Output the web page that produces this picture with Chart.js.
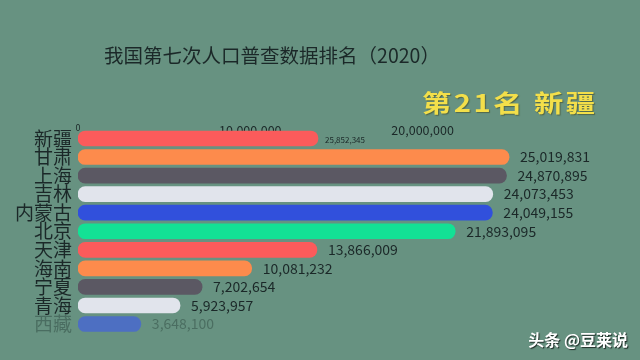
<!DOCTYPE html>
<html><head><meta charset="utf-8">
<script src="https://cdn.jsdelivr.net/npm/chart.js@4.4.1/dist/chart.umd.min.js"></script>
<style>html,body{margin:0;padding:0;background:#679281;} canvas{display:block}</style>
</head><body>
<canvas id="c" width="640" height="360"></canvas>
<script>
const categories = ['新疆','甘肃','上海','吉林','内蒙古','北京','天津','海南','宁夏','青海','西藏'];
// bar lengths as drawn in this frame (新疆 is mid-animation)
const values = [13930000, 25019831, 24870895, 24073453, 24049155, 21893095, 13866009, 10081232, 7202654, 5923957, 3648100];
const valueLabels = ['25,852,345','25,019,831','24,870,895','24,073,453','24,049,155','21,893,095','13,866,009','10,081,232','7,202,654','5,923,957','3,648,100'];
const barColors = ['#fb5b5b','#fd8b4c','#5b5863','#e1e4ec','#3150dc','#13e195','#fb5b5b','#fd8b4c','#5b5863','#e1e4ec','#4d6fc2'];
const xTicks = [0, 10000000, 20000000];
const titleText = '我国第七次人口普查数据排名（2020）';
const rankText = '第21名 新疆';
const watermarkText = '头条 @豆莱说';

const FAM = '"Noto Sans CJK SC", "Noto Sans", sans-serif';
const DARK = '#1b2828';
const FADED = 'rgba(35,60,52,0.42)';

const valueLabelPlugin = {
  id: 'valueLabels',
  afterDatasetsDraw(chart) {
    const ctx = chart.ctx;
    const meta = chart.getDatasetMeta(0);
    meta.data.forEach((bar, i) => {
      ctx.save();
      ctx.textBaseline = 'middle';
      ctx.textAlign = 'left';
      if (i === 0) {
        ctx.font = '8px ' + FAM;
        ctx.fillStyle = DARK;
        ctx.fillText(valueLabels[i], bar.x + 7, bar.y + 1);
      } else {
        ctx.font = '14px ' + FAM;
        ctx.fillStyle = i === categories.length - 1 ? FADED : DARK;
        ctx.fillText(valueLabels[i], bar.x + 11, bar.y);
      }
      ctx.restore();
    });
  }
};

const overlayPlugin = {
  id: 'overlay',
  afterDraw(chart) {
    const ctx = chart.ctx;
    ctx.save();
    ctx.font = 'bold 24px ' + FAM;
    try { ctx.letterSpacing = '2px'; } catch (e) {}
    ctx.fillStyle = '#f3df4a';
    ctx.textBaseline = 'middle';
    ctx.textAlign = 'left';
    ctx.shadowColor = 'rgba(60,60,20,0.5)';
    ctx.shadowOffsetX = 1; ctx.shadowOffsetY = 1; ctx.shadowBlur = 1;
    ctx.translate(422, 103);
    ctx.scale(1.22, 1);
    ctx.fillText(rankText, 0, 0);
    ctx.restore();

    ctx.save();
    ctx.font = 'bold 16px ' + FAM;
    ctx.fillStyle = '#ffffff';
    ctx.textBaseline = 'middle';
    ctx.textAlign = 'right';
    ctx.shadowColor = 'rgba(0,0,0,0.7)';
    ctx.shadowOffsetX = 1; ctx.shadowOffsetY = 1; ctx.shadowBlur = 1;
    ctx.fillText(watermarkText, 628, 340);
    ctx.restore();
  }
};

new Chart(document.getElementById('c'), {
  type: 'bar',
  data: {
    labels: categories,
    datasets: [{
      data: values,
      backgroundColor: barColors,
      borderRadius: 8,
      borderSkipped: false,
      barThickness: 15
    }]
  },
  options: {
    indexAxis: 'y',
    responsive: false,
    animation: false,
    devicePixelRatio: 1,
    layout: { padding: { left: 12, right: 108, top: 0, bottom: 26.7 } },
    plugins: {
      legend: { display: false },
      tooltip: { enabled: false },
      title: {
        display: true,
        text: titleText,
        color: DARK,
        font: { family: FAM, size: 19.5, weight: 'normal' },
        padding: { top: 43.5, bottom: 62.3 }
      }
    },
    scales: {
      x: {
        position: 'top',
        min: 0,
        max: 26350000,
        grid: { display: false, drawTicks: false },
        border: { display: false },
        afterFit: s => { s.height = 0; },
        afterBuildTicks: s => { s.ticks = xTicks.map(v => ({ value: v })); },
        ticks: {
          mirror: true,
          padding: -6.7,
          color: DARK,
          autoSkip: false,
          maxRotation: 0,
          font: ctx => (ctx.tick && ctx.tick.value === 0) ? { family: FAM, size: 9 } : { family: FAM, size: 12.5 },
          callback: v => Number(v).toLocaleString('en-US')
        }
      },
      y: {
        grid: { display: false, drawTicks: false },
        border: { display: false },
        afterFit: s => { s.width = 66; },
        ticks: {
          autoSkip: false,
          padding: 6,
          color: ctx => ctx.index === categories.length - 1 ? FADED : DARK,
          font: { family: FAM, size: 19 }
        }
      }
    }
  },
  plugins: [valueLabelPlugin, overlayPlugin]
});
</script>
</body></html>
